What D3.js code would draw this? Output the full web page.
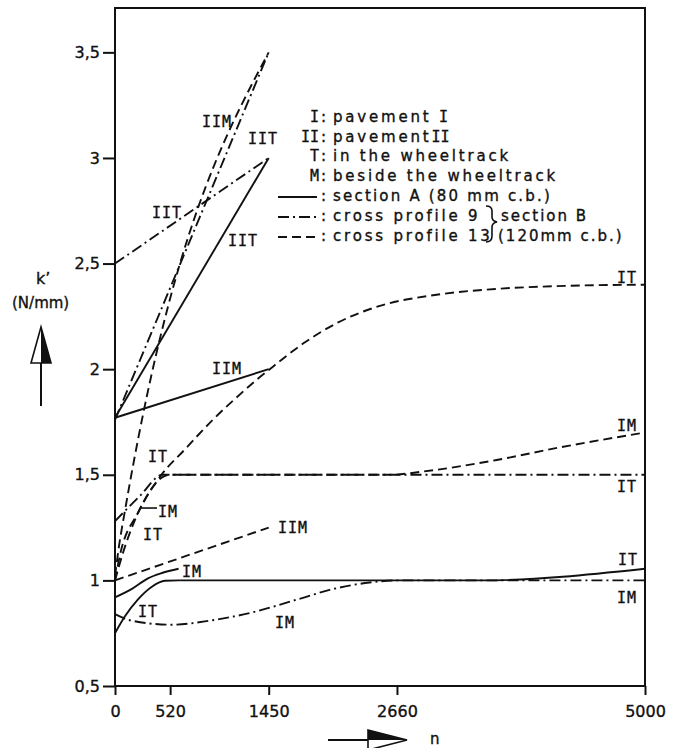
<!DOCTYPE html>
<html>
<head>
<meta charset="utf-8">
<script src="https://cdn.jsdelivr.net/npm/d3@7"></script>
<style>
  body { margin: 0; background: #fff; }
  svg { display: block; }
  text { font-family: "DejaVu Sans", sans-serif; fill: #111; stroke: #111; stroke-width: 0.35px; }
  .lbl { font-family: "DejaVu Sans Mono", monospace; font-size: 15px; letter-spacing: 1px; }
  .key { font-size: 15px; letter-spacing: 2.8px; }
  .mono { font-family: "DejaVu Sans Mono", monospace; }
</style>
</head>
<body>
<div id="chart"></div>
<script>
const xTicks = [0, 520, 1450, 2660, 5000]
const yTicks = [0.5, 1, 1.5, 2, 2.5, 3, 3.5]
const yTickLabels = ['0,5', '1', '1,5', '2', '2,5', '3', '3,5']

// section A (80 mm c.b.) - solid
const aIIT = [[0, 1.77], [1450, 3.0]]
const aIIM = [[0, 1.77], [1450, 2.0]]
const aIT = [[0, 0.75], [94, 0.83], [217, 0.91], [348, 0.97], [471, 0.998], [600, 1.0], [3450, 1.0], [5000, 1.055]]
const aIM = [[0, 0.92], [160, 0.96], [311, 1.01], [442, 1.035], [600, 1.055]]

// cross profile 9 - dash-dot
const p9IIT = [[0, 2.5], [1450, 3.0]]
const p9IIM = [[0, 1.76], [1450, 3.5]]
const p9IT = [[0, 1.28], [235, 1.4], [450, 1.5], [5000, 1.5]]
const p9IM = [[0, 0.84], [150, 0.81], [537, 0.79], [900, 0.81], [1224, 0.84], [1789, 0.92], [2025, 0.955], [2400, 0.99], [2660, 1.0], [5000, 1.0]]

// cross profile 13 - dashed
const p13IIT = [[0, 1.02], [40, 1.17], [94, 1.33], [1450, 3.5]]
const p13IIM = [[0, 1.0], [1450, 1.25]]
const p13IT = [[0, 1.0], [75, 1.13], [200, 1.3], [424, 1.49], [659, 1.62], [942, 1.77], [1111, 1.85], [1337, 1.95], [1460, 2.0], [1800, 2.13], [2100, 2.22], [2500, 2.3], [3000, 2.35], [3600, 2.38], [4300, 2.395], [5000, 2.4]]
const p13IM = [[0, 1.0], [47, 1.12], [217, 1.32], [452, 1.49], [520, 1.5], [2600, 1.5], [2900, 1.515], [3600, 1.57], [4200, 1.63], [5000, 1.7]]

// curve labels: text, n, k'
const labelTexts = ['IIM', 'IIT', 'IIT', 'IIT', 'IIM', 'IT', 'IM', 'IT', 'IT', 'IM', 'IT', 'IM', 'IT', 'IIM', 'IM', 'IT', 'IM']
const labelN = [821, 1255, 349, 1066, 915, 4736, 4736, 4736, 4745, 4736, 311, 406, 264, 1538, 632, 217, 1509]
const labelK = [3.145, 3.064, 2.718, 2.585, 1.979, 2.41, 1.709, 1.419, 1.073, 0.893, 1.562, 1.30, 1.19, 1.225, 1.017, 0.827, 0.775]

const keyLetters = ['I', 'II', 'T', 'M']
const keyTexts = ['pavement ', 'pavement', 'in the wheeltrack', 'beside the wheeltrack']
const keyTail = ['I', 'II', '', '']
const styleTexts = ['section A (80 mm c.b.)', 'cross profile 9', 'cross profile 13']

const W = 676, H = 748
const margin = {top: 8, right: 31, bottom: 62, left: 115}
const dashes = {solid: null, dashdot: '11,4,2,4', dashed: '9,5'}

const svg = d3.select('#chart').append('svg').attr('width', W).attr('height', H)

const x = d3.scaleLinear().domain([0, 5000]).range([margin.left, W - margin.right])
const y = d3.scaleLinear().domain([0.5, 3.71]).range([H - margin.bottom, margin.top])

// frame
svg.append('rect')
  .attr('x', x(0)).attr('y', y(3.71))
  .attr('width', x(5000) - x(0)).attr('height', y(0.5) - y(3.71))
  .attr('fill', 'none').attr('stroke', '#111').attr('stroke-width', 2)

const yAxis = svg.append('g')
  .attr('transform', 'translate(' + x(0) + ',0)')
  .call(d3.axisLeft(y).tickValues(yTicks).tickFormat((d, i) => yTickLabels[i]).tickSize(12).tickPadding(3).tickSizeOuter(0))
yAxis.select('.domain').remove()
yAxis.selectAll('line').attr('stroke', '#111').attr('stroke-width', 2)
yAxis.selectAll('text').attr('font-size', 16).attr('font-family', 'DejaVu Sans').attr('fill', '#111')

const xAxis = svg.append('g')
  .attr('transform', 'translate(0,' + y(0.5) + ')')
  .call(d3.axisBottom(x).tickValues(xTicks).tickFormat(d => d).tickSize(9).tickPadding(11).tickSizeOuter(0))
xAxis.select('.domain').remove()
xAxis.selectAll('line').attr('stroke', '#111').attr('stroke-width', 2)
xAxis.selectAll('text').attr('font-size', 16).attr('font-family', 'DejaVu Sans').attr('fill', '#111')

// curves
const line = d3.line().x(d => x(d[0])).y(d => y(d[1])).curve(d3.curveMonotoneX)
const series = [
  [aIIT, 'solid'], [aIIM, 'solid'], [aIT, 'solid'], [aIM, 'solid'],
  [p9IIT, 'dashdot'], [p9IIM, 'dashdot'], [p9IT, 'dashdot'], [p9IM, 'dashdot'],
  [p13IIT, 'dashed'], [p13IIM, 'dashed'], [p13IT, 'dashed'], [p13IM, 'dashed'],
]
svg.append('g').selectAll('path').data(series).join('path')
  .attr('d', d => line(d[0]))
  .attr('fill', 'none')
  .attr('stroke', '#111')
  .attr('stroke-width', 1.9)
  .attr('stroke-dasharray', d => dashes[d[1]])

// curve labels
svg.append('g').selectAll('text').data(labelTexts).join('text')
  .attr('class', 'lbl')
  .attr('x', (d, i) => x(labelN[i]))
  .attr('y', (d, i) => y(labelK[i]))
  .text(d => d)
// leader for the small IM label
svg.append('line')
  .attr('x1', x(labelN[11]) - 18).attr('x2', x(labelN[11]) - 1)
  .attr('y1', y(labelK[11]) - 9).attr('y2', y(labelK[11]) - 9)
  .attr('stroke', '#111').attr('stroke-width', 1.6)

// key
const key = svg.append('g')
keyLetters.forEach((k, i) => {
  const yy = 122 + i * 19.5
  key.append('text').attr('class', 'key mono').attr('x', 319).attr('y', yy)
    .attr('text-anchor', 'end').style('letter-spacing', '0px').text(k)
  key.append('text').attr('class', 'key').attr('x', 321).attr('y', yy).text(':')
  const t = key.append('text').attr('class', 'key').attr('x', 333).attr('y', yy)
  t.append('tspan').text(keyTexts[i])
  if (keyTail[i]) t.append('tspan').attr('class', 'mono').style('letter-spacing', '0px').text(keyTail[i])
})
const styleKeys = ['solid', 'dashdot', 'dashed']
styleTexts.forEach((s, i) => {
  const yy = 201 + i * 20
  key.append('line').attr('x1', 278).attr('x2', 317).attr('y1', yy - 4).attr('y2', yy - 4)
    .attr('stroke', '#111').attr('stroke-width', 1.9).attr('stroke-dasharray', dashes[styleKeys[i]])
  key.append('text').attr('class', 'key').attr('x', 321).attr('y', yy).text(':')
  key.append('text').attr('class', 'key').attr('x', 333).attr('y', yy)
    .style('letter-spacing', i === 0 ? '2.2px' : '2.8px').text(s)
})
key.append('path')
  .attr('d', 'M486,206 q6,0 6,5 v6 q0,4 5,5 q-5,1 -5,5 v9 q0,6 -6,6')
  .attr('fill', 'none').attr('stroke', '#111').attr('stroke-width', 1.6)
key.append('text').attr('class', 'key').attr('x', 501).attr('y', 221).style('letter-spacing', '2px').text('section B')
key.append('text').attr('class', 'key').attr('x', 498).attr('y', 241).style('letter-spacing', '2px').text('(120mm c.b.)')

// axis titles
svg.append('text').attr('x', 36).attr('y', 284).attr('font-size', 16).text('k\u2019')
svg.append('text').attr('x', 12).attr('y', 308).attr('font-size', 15).text('(N/mm)')

// up arrow
svg.append('line').attr('x1', 41).attr('x2', 41).attr('y1', 363).attr('y2', 406)
  .attr('stroke', '#111').attr('stroke-width', 2)
svg.append('path').attr('d', 'M41,327 L31,363 L51,363 Z').attr('fill', '#fff').attr('stroke', '#111').attr('stroke-width', 1.6)
svg.append('path').attr('d', 'M41,327 L41,363 L51,363 Z').attr('fill', '#111')

// right arrow
svg.append('line').attr('x1', 328).attr('x2', 368).attr('y1', 740).attr('y2', 740)
  .attr('stroke', '#111').attr('stroke-width', 2)
svg.append('path').attr('d', 'M407,740 L368,730 L368,750 Z').attr('fill', '#fff').attr('stroke', '#111').attr('stroke-width', 1.6)
svg.append('path').attr('d', 'M407,740 L368,730 L368,740 Z').attr('fill', '#111')
svg.append('text').attr('x', 430).attr('y', 744).attr('font-size', 15).text('n')
</script>
</body>
</html>
